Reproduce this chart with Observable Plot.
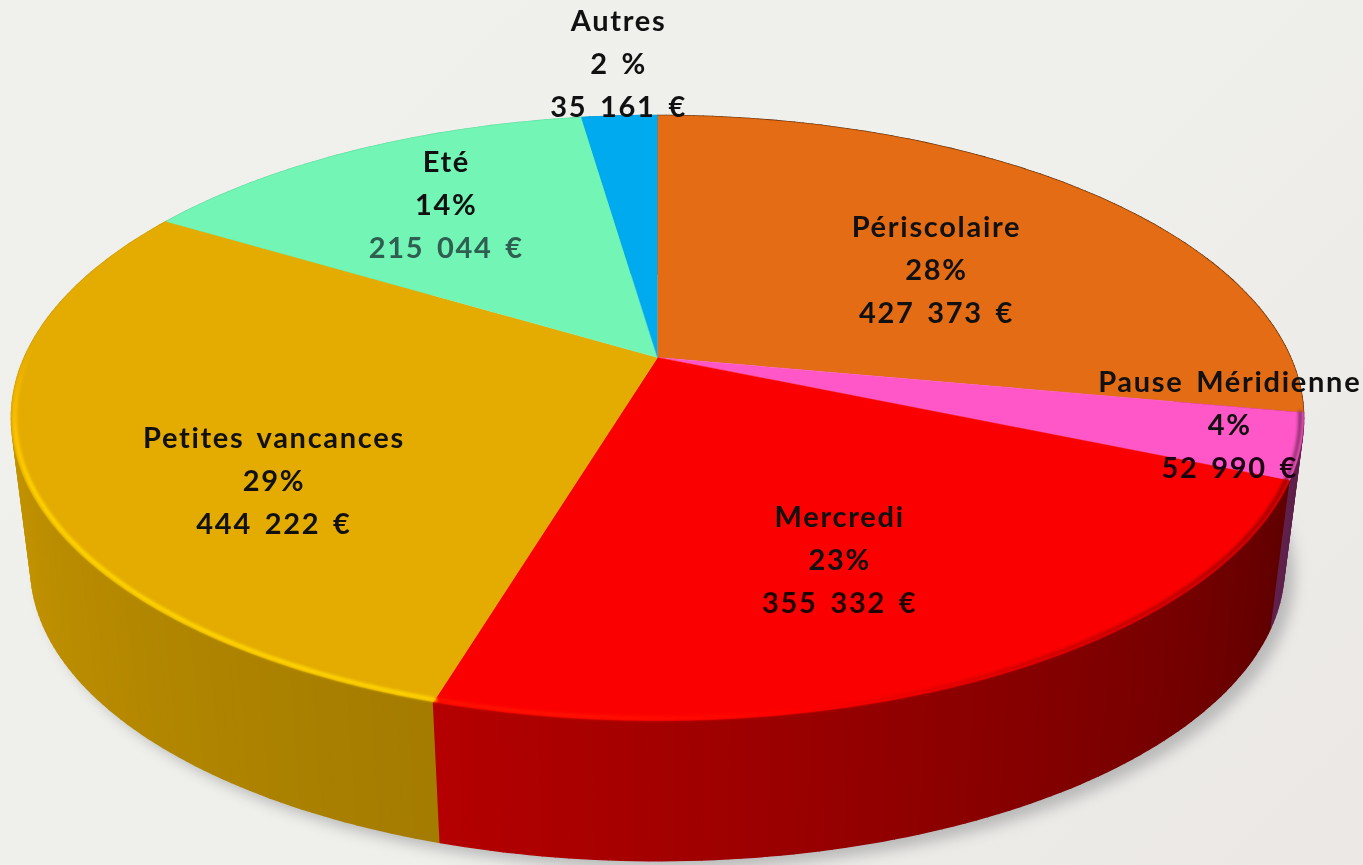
<!DOCTYPE html>
<html lang="fr">
<head>
<meta charset="utf-8">
<title>Répartition par temps d'accueil</title>
<script src="https://cdn.jsdelivr.net/npm/d3@7"></script>
<script src="https://cdn.jsdelivr.net/npm/@observablehq/plot@0.6"></script>
<style>
  html, body { margin: 0; padding: 0; background: #efefeb; }
  #chart { width: 1363px; height: 865px; overflow: hidden; }
  #chart svg { display: block; }
</style>
</head>
<body>
<div id="chart"></div>
<script>
// ---- Data, clockwise from 12 o'clock ----
const categories = ["Périscolaire", "Pause Méridienne", "Mercredi", "Petites vancances", "Eté", "Autres"];
const amounts = [427373, 52990, 355332, 444222, 215044, 35161];
const percentLabels = ["28%", "4%", "23%", "29%", "14%", "2 %"];
const topColors = ["#e46c14", "#ff57c8", "#fb0000", "#e4ac00", "#72f5b5", "#00aaee"];
const amountInk = ["#111111", "#1a0012", "#1e0000", "#111111", "#2f5f50", "#111111"];

// ---- Label placement: radius within the disc, and turn away from the slice's mid-angle ----
const labelRadius = [0.567, 0.892, 0.663, 0.684, 0.692, 1.266];
const labelTurn = [5.5, -2.3, 2.8, -14.2, 1, 0.65];

// ---- View of the tilted disc ----
const W = 1363, H = 865;
const centerX = 657, centerY = 357, unitX = 633, unitY = 290.4;
const tilt = 0.2;            // perspective: the far edge of the disc is smaller
const baseScale = 0.97;      // lower rim seen slightly smaller than the upper one
const baseDrop = 0.52;       // thickness of the disc, in y units

const rad = d => d * Math.PI / 180;
const top3 = (deg, r = 1) => {
  const u = r * Math.sin(rad(deg)), v = r * Math.cos(rad(deg)), w = 1 + tilt * v;
  return [u / w, v / w];
};
const base3 = deg => {
  const [x, y] = top3(deg);
  return [x * baseScale, y * baseScale - baseDrop];
};

const total = d3.sum(amounts);
let running = 0;
const slices = categories.map((name, i) => {
  const a0 = running / total * 360;
  running += amounts[i];
  const a1 = running / total * 360;
  return {name, i, a0, a1, mid: (a0 + a1) / 2};
});
const sweep = (a0, a1) => {
  const n = Math.max(2, Math.ceil(a1 - a0));
  return d3.range(n + 1).map(k => a0 + (a1 - a0) * k / n);
};

// Wall brightness by angle
const wallLight = d3.scaleLinear([90, 113, 197, 270, 300], [0.34, 0.38, 0.72, 0.89, 0.89]).clamp(true);
// Bevel along the top rim by angle
const rimLight = d3.scaleLinear([100, 150, 185, 245, 272], [0.55, 0.82, 1.14, 1.14, 1]).clamp(true);
const shade = (color, k) => {
  const c = d3.rgb(color), lift = k > 1 ? (k - 1) * 130 : 0;
  return d3.rgb(Math.min(255, c.r * k + lift), Math.min(255, c.g * k + lift), Math.min(255, c.b * k)).formatHex();
};

// Side wall quads, painted from the far side of the disc to the near side
const wallQuads = slices.flatMap(s => {
  const angles = sweep(s.a0, s.a1);
  return angles.slice(1).map((a, k) => ({i: s.i, k, p: angles[k], a, mid: (angles[k] + a) / 2}));
});
wallQuads.sort((q, r) => Math.cos(rad(r.mid)) - Math.cos(rad(q.mid)));
const wallRows = wallQuads.flatMap(q => {
  const fill = shade(topColors[q.i], wallLight(q.mid)), id = `${q.i}-${q.k}`;
  return [top3(q.p), top3(q.a), base3(q.a), base3(q.p)].map(([x, y]) => ({id, x, y, fill}));
});
// Cast shadow outline
const shadowRows = d3.range(60, 301, 2).map(a => { const [x, y] = base3(a); return {x: x + 0.016, y: y - 0.03}; });
// Top surface
const topRows = slices.flatMap(s => [
  {id: s.i, x: 0, y: 0, fill: topColors[s.i]},
  ...sweep(s.a0, s.a1).map(a => { const [x, y] = top3(a); return {id: s.i, x, y, fill: topColors[s.i]}; })
]);
// Bevel, only along the near side of the disc
const rimRows = [];
slices.forEach(s => {
  const angles = sweep(s.a0, s.a1);
  angles.slice(1).forEach((a, k) => {
    const p = angles[k];
    if (p < 100 || a > 272) return;
    const stroke = shade(topColors[s.i], rimLight((p + a) / 2));
    const id = `${s.i}-${k}`;
    [top3(p, 0.995), top3(a, 0.995)].forEach(([x, y]) => rimRows.push({id, x, y, stroke}));
  });
});
// Labels
const labelRows = slices.map(s => {
  const [x, y] = top3(s.mid + labelTurn[s.i], labelRadius[s.i]);
  const amount = String(amounts[s.i]).replace(/\B(?=(\d{3})+$)/g, " ") + " €";
  return {x, y, name: s.name, percent: percentLabels[s.i], amount, ink: amountInk[s.i]};
});

const textStyle = {
  x: "x", y: "y", fontSize: 29, fontWeight: 700, textAnchor: "middle",
  fontFamily: "'Comic Sans MS', Lato, sans-serif", imageFilter: "blur(0.6px)"
};

const chart = Plot.plot({
  width: W, height: H,
  margin: 0,
  x: {domain: [-centerX / unitX, (W - centerX) / unitX], axis: null},
  y: {domain: [(centerY - H) / unitY, centerY / unitY], axis: null},
  color: {type: "identity"},
  style: {background: "linear-gradient(135deg, #f0f0ec 0%, #efefeb 55%, #ebe8e5 100%)", wordSpacing: "4px", letterSpacing: "1.7px"},
  marks: [
    Plot.line(shadowRows, {x: "x", y: "y", fill: "#b9b9b9", stroke: "none", imageFilter: "blur(7px)"}),
    Plot.line(wallRows, {x: "x", y: "y", z: "id", fill: "fill", stroke: "fill", strokeWidth: 1.6}),
    Plot.line(topRows, {x: "x", y: "y", z: "id", fill: "fill", stroke: "fill", strokeWidth: 0.5, curve: "linear"}),
    Plot.line(rimRows, {x: "x", y: "y", z: "id", stroke: "stroke", strokeWidth: 4, imageFilter: "blur(1.5px)"}),
    Plot.text(labelRows, {...textStyle, text: "name", dy: -43, fill: "#111111"}),
    Plot.text(labelRows, {...textStyle, text: "percent", fill: "#111111"}),
    Plot.text(labelRows, {...textStyle, text: "amount", dy: 43, fill: "ink"})
  ]
});
document.getElementById("chart").appendChild(chart);
</script>
</body>
</html>
